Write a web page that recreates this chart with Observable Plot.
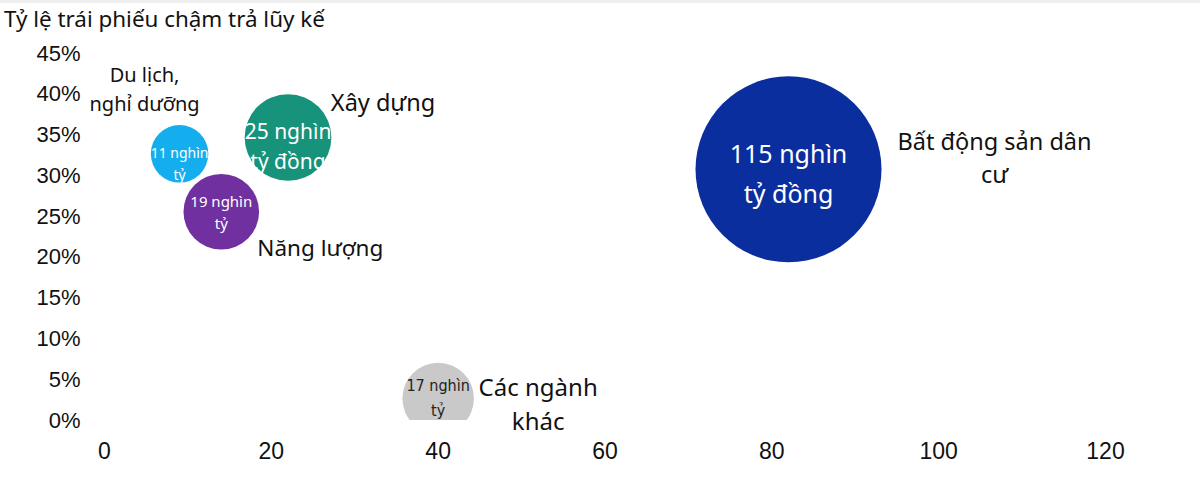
<!DOCTYPE html>
<html>
<head>
<meta charset="utf-8">
<script src="https://cdn.jsdelivr.net/npm/d3@7"></script>
<script src="https://cdn.jsdelivr.net/npm/@observablehq/plot@0.6"></script>
<style>
  html, body { margin: 0; padding: 0; background: #fff; }
  body { width: 1200px; height: 490px; overflow: hidden; border-top: 3px solid #eeeeee; box-sizing: border-box; }
  #title { height: 33px; line-height: 31px; padding-left: 4px; font-family: "Noto Sans", sans-serif; font-size: 22.4px; color: #111; }
  svg { display: block; }
</style>
</head>
<body>
<div id="title">Tỷ lệ trái phiếu chậm trả lũy kế</div>
<div id="chart"></div>
<script>
// ---- data ----
const sectors = ["Du lịch, nghỉ dưỡng", "Xây dựng", "Năng lượng", "Bất động sản dân cư", "Các ngành khác"];
const xValues = [9, 22, 14, 82, 40];               // trục hoành
const yValues = [32.7, 34.7, 25.6, 30.8, 2.7];     // tỷ lệ chậm trả lũy kế (%)
const sizes = [11, 25, 19, 115, 17];               // nghìn tỷ đồng
const bubbleLabels = ["11 nghìn\ntỷ", "25 nghìn\ntỷ đồng", "19 nghìn\ntỷ", "115 nghìn\ntỷ đồng", "17 nghìn\ntỷ"];
const sectorLabels = ["Du lịch,\nnghỉ dưỡng", "Xây dựng", "Năng lượng", "Bất động sản dân\ncư", "Các ngành\nkhác"];
const colors = ["#14AEEE", "#16937A", "#7030A0", "#0B2E9E", "#C9C9C9"];
const xTicks = [0, 20, 40, 60, 80, 100, 120];
const yTicks = [0, 5, 10, 15, 20, 25, 30, 35, 40, 45];

const data = sectors.map((s, i) => ({
  sector: s, x: xValues[i], y: yValues[i], size: sizes[i],
  inner: bubbleLabels[i], outer: sectorLabels[i]
}));

// ---- layout (styling only) ----
const outerOffset = [[-35, -67], [95, -37], [99, 34], [206, -13], [100, 4]];
const outerFS = [20, 23.5, 22.5, 23.5, 24];
const outerLH = [1.45, 1.4, 1.4, 1.4, 1.4];
const innerStyle = [
  {fs: 14, dy: 8, lh: 1.57, fill: "#fff"},
  {fs: 21, dy: 7, lh: 1.4, fill: "#fff"},
  {fs: 15, dy: -1, lh: 1.47, fill: "#fff"},
  {fs: 25, dy: 1, lh: 1.6, fill: "#fff"},
  {fs: 16, dy: -3, lh: 1.56, fill: "#222"}
];

const tickFont = '"Liberation Sans", Arial, sans-serif';
const labelFont = '"Noto Sans", sans-serif';
const narrowFont = '"Liberation Sans Narrow", "DejaVu Sans Condensed", sans-serif';

const marks = [
  Plot.dot(data, {x: "x", y: "y", r: "size", fill: "sector", clip: true}),
  ...data.map((d, i) => Plot.text([d], {
    x: "x", y: "y", text: "inner",
    fill: innerStyle[i].fill, fontSize: innerStyle[i].fs, lineHeight: innerStyle[i].lh,
    dy: innerStyle[i].dy, fontFamily: i === 4 ? narrowFont : labelFont
  })),
  ...data.map((d, i) => Plot.text([d], {
    x: "x", y: "y", text: "outer",
    fill: "#111", fontSize: outerFS[i], lineHeight: outerLH[i],
    dx: outerOffset[i][0], dy: outerOffset[i][1], fontFamily: labelFont
  })),
  Plot.axisX({ticks: xTicks, tickSize: 0, tickPadding: 22, fontSize: 23, fontFamily: tickFont, fill: "#111", label: null}),
  Plot.axisY({ticks: yTicks, tickSize: 0, tickPadding: 24, fontSize: 22, fontFamily: tickFont, fill: "#111", label: null, tickFormat: d => d + "%"})
];

const chart = Plot.plot({
  width: 1200,
  height: 454,
  marginLeft: 104,
  marginRight: 95,
  marginTop: 17,
  marginBottom: 70,
  x: {domain: [0, 120]},
  y: {domain: [0, 45]},
  r: {type: "sqrt", domain: [0, 115], range: [0, 93]},
  color: {domain: sectors, range: colors},
  style: {fontFamily: labelFont, background: "#fff", color: "#111"},
  marks
});
document.getElementById("chart").appendChild(chart);
</script>
</body>
</html>
